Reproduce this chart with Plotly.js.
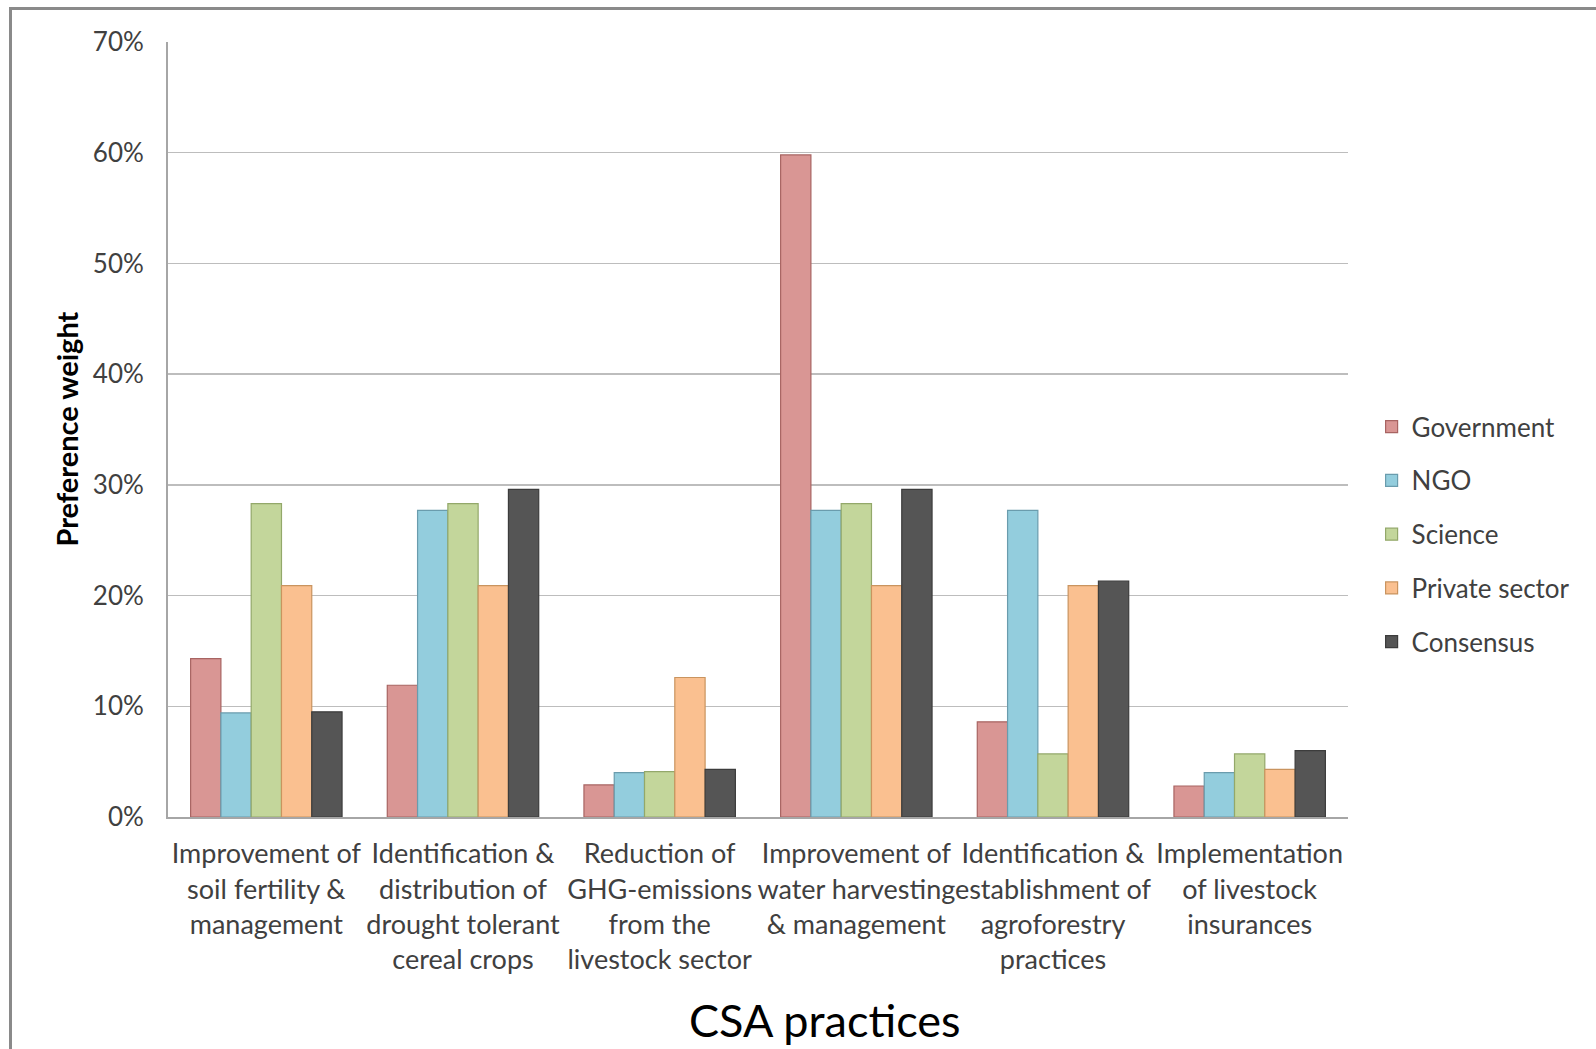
<!DOCTYPE html>
<html>
<head>
<meta charset="utf-8">
<script src="https://cdn.plot.ly/plotly-3.0.1.min.js"></script>
<style>
  html, body { margin: 0; padding: 0; background: #ffffff; overflow: hidden; }
  #chart { width: 1596px; height: 1049px; }
  #frame { position: absolute; left: 9px; top: 7px; width: 1700px; height: 1200px;
           border: 3px solid #8a8a8a; pointer-events: none; }
</style>
</head>
<body>
<div id="chart"></div>
<div id="frame"></div>
<script>
const categories = [
  "Improvement of<br>soil fertility &<br>management",
  "Identification &<br>distribution of<br>drought tolerant<br>cereal crops",
  "Reduction of<br>GHG-emissions<br>from the<br>livestock sector",
  "Improvement of<br>water harvesting<br>& management",
  "Identification &<br>establishment of<br>agroforestry<br>practices",
  "Implementation<br>of livestock<br>insurances"
];
const seriesNames = ["Government", "NGO", "Science", "Private sector", "Consensus"];
const government = [14.3, 11.9, 2.9, 59.8, 8.6, 2.8];
const ngo        = [9.4, 27.7, 4.0, 27.7, 27.7, 4.0];
const science    = [28.3, 28.3, 4.1, 28.3, 5.7, 5.7];
const privateSec = [20.9, 20.9, 12.6, 20.9, 20.9, 4.3];
const consensus  = [9.5, 29.6, 4.3, 29.6, 21.3, 6.0];
const yTicks = [0, 10, 20, 30, 40, 50, 60, 70];
const yTickText = yTicks.map(v => v + "%");

const fills = ["#D99694", "#93CDDD", "#C3D69B", "#FAC090", "#555555"];
const lines = ["#A86462", "#6A9CAD", "#93A86A", "#C9945F", "#3C3C3C"];
const values = [government, ngo, science, privateSec, consensus];

const FONT = "Lato, 'Open Sans', sans-serif";

const traces = values.map((v, i) => ({
  type: "bar",
  name: seriesNames[i],
  x: categories,
  y: v,
  legendgroup: "g" + i,
  marker: { color: fills[i], line: { color: lines[i], width: 1.2 } },
  hoverinfo: "x+y+name"
}));

const layout = {
  width: 1596,
  height: 1049,
  paper_bgcolor: "#ffffff",
  plot_bgcolor: "#ffffff",
  margin: { l: 168, r: 248, t: 42, b: 232 },
  barmode: "group",
  bargap: 0.23,
  bargroupgap: 0,
  font: { family: FONT, color: "#404040" },
  xaxis: {
    type: "category",
    showline: true,
    linecolor: "#a6a6a6",
    linewidth: 2,
    ticks: "",
    showgrid: false,
    tickangle: 0,
    tickfont: { family: FONT, size: 27, color: "#404040" },
    ticklabelstandoff: 12,
    automargin: false
  },
  yaxis: {
    range: [0, 70],
    tickmode: "array",
    tickvals: yTicks,
    ticktext: yTickText,
    showline: true,
    linecolor: "#a6a6a6",
    linewidth: 2,
    showgrid: true,
    gridcolor: "#bdbdbd",
    gridwidth: 1.5,
    zeroline: false,
    ticks: "",
    tickfont: { family: FONT, size: 26, color: "#404040" },
    ticklabelstandoff: 17,
    automargin: false
  },
  legend: {
    x: 1.02,
    xanchor: "left",
    y: 0.365,
    yanchor: "middle",
    traceorder: "grouped",
    tracegroupgap: 17,
    font: { family: FONT, size: 26, color: "#404040" },
    itemwidth: 30,
    bgcolor: "rgba(0,0,0,0)"
  },
  annotations: [
    {
      text: "CSA practices",
      xref: "paper", yref: "paper",
      x: 0.557, y: -0.262,
      xanchor: "center", yanchor: "middle",
      showarrow: false,
      font: { family: FONT, size: 45, color: "#000000" }
    },
    {
      text: "<b>Preference weight</b>",
      xref: "paper", yref: "paper",
      x: -0.0864, y: 0.5,
      xanchor: "center", yanchor: "middle",
      textangle: -90,
      showarrow: false,
      font: { family: FONT, size: 29, color: "#000000" }
    }
  ]
};

Plotly.newPlot("chart", traces, layout, { displayModeBar: false, staticPlot: true });
</script>
</body>
</html>
